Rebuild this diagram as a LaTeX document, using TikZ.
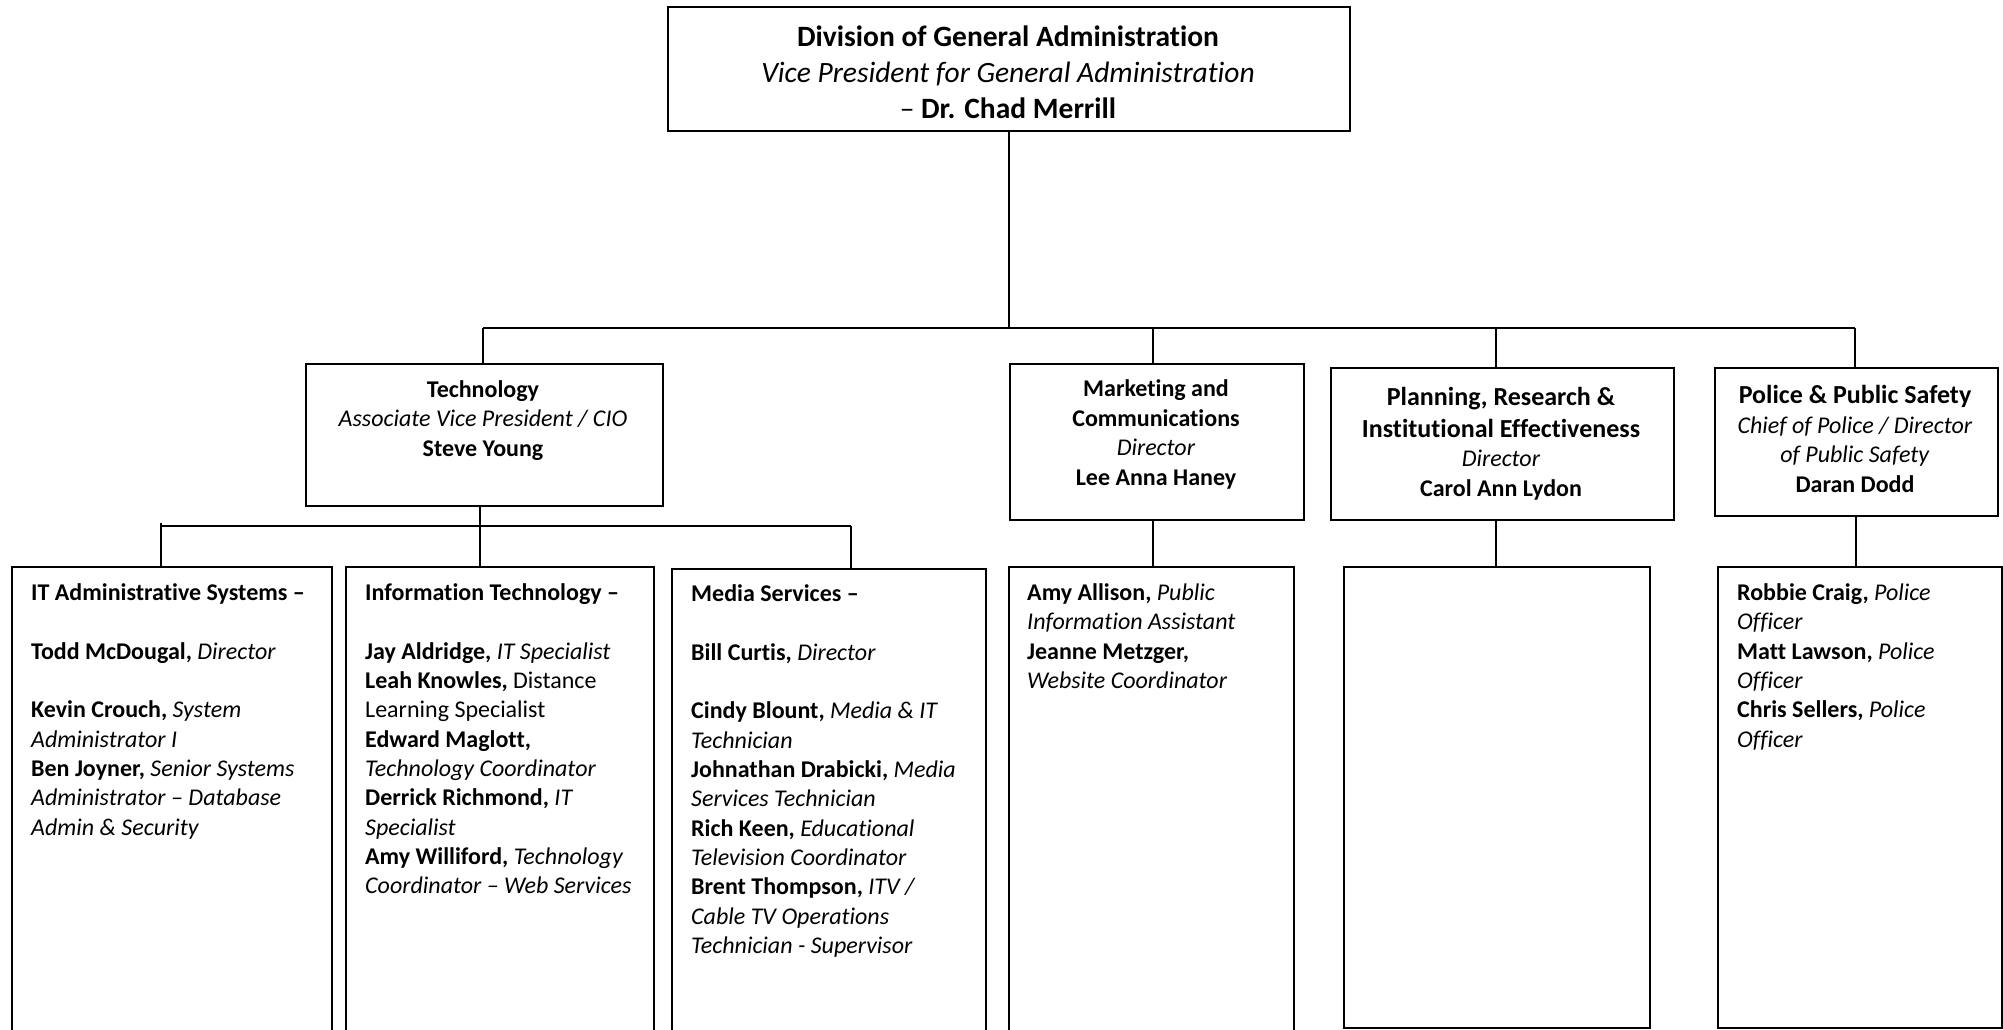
\documentclass[tikz,border=0pt]{standalone}
\usepackage{fontspec}
\setmainfont{Carlito}[Ligatures={NoCommon}]
\begin{document}
\begin{tikzpicture}[x=1pt,y=-1pt,
  box/.style={draw, line width=2.2pt, rectangle, inner sep=0pt, anchor=north west},
  conn/.style={line width=1.6pt},
  bigtxt/.style={font=\fontsize{29.5}{36}\selectfont, align=center, inner sep=0pt},
  midtxt/.style={font=\fontsize{24}{29.4}\selectfont, align=center, inner sep=0pt},
  listtxt/.style={font=\fontsize{24}{29.3}\selectfont, align=left, inner sep=0pt, anchor=north west}]
\useasboundingbox (0,0) rectangle (2003,1030);
\fill[white] (0,0) rectangle (2003,1030);
\clip (0,0) rectangle (2003,1030);

% level 1
\node[box, minimum width=682pt, minimum height=124pt] (top) at (667,6) {};
\node[bigtxt] (toptxt) at (1008,72) {\textbf{Division of General Administration}\\ \textit{Vice President for General Administration}\\ – \textbf{Dr. Chad Merrill}};

% level 2
\node[box, minimum width=357pt, minimum height=142pt] (tech) at (305,363) {};
\node[midtxt] (techtxt) at (483,420.5) {\textbf{Technology}\\ \textit{Associate Vice President / CIO}\\ \textbf{Steve Young}};

\node[box, minimum width=294pt, minimum height=156pt] (mkt) at (1009,363) {};
\node[midtxt] (mkttxt) at (1156,434.5) {\textbf{Marketing and}\\ \textbf{Communications}\\ \textit{Director}\\ \textbf{Lee Anna Haney}};

\node[box, minimum width=343pt, minimum height=152pt] (plan) at (1330,367) {};
\node[midtxt] (plantxt) at (1501,443.5) {{\fontsize{26}{32}\selectfont\textbf{Planning, Research \&}}\\[3pt] {\fontsize{26}{32}\selectfont\textbf{Institutional Effectiveness}}\\ \textit{Director}\\ \textbf{Carol Ann Lydon}};

\node[box, minimum width=283pt, minimum height=148pt] (pol) at (1714,367) {};
\node[midtxt] (poltxt) at (1855,439) {{\fontsize{26}{32}\selectfont\textbf{Police \& Public Safety}}\\ \textit{Chief of Police / Director}\\ \textit{of Public Safety}\\ \textbf{Daran Dodd}};

% level 3
\node[box, minimum width=320pt, minimum height=520pt] (itadm) at (11,566) {};
\node[listtxt] (itadmtxt) at (31,583.5) {\textbf{IT Administrative Systems –}\\[29.4pt]
\textbf{Todd McDougal,} \textit{Director}\\[29.4pt]
\textbf{Kevin Crouch,} \textit{System}\\
\textit{Administrator I}\\
\textbf{Ben Joyner,} \textit{Senior Systems}\\
\textit{Administrator – Database}\\
\textit{Admin \& Security}};

\node[box, minimum width=308pt, minimum height=520pt] (infot) at (345,566) {};
\node[listtxt] (infottxt) at (365,583.5) {\textbf{Information Technology –}\\[29.4pt]
\textbf{Jay Aldridge,} \textit{IT Specialist}\\
\textbf{Leah Knowles,} Distance\\
Learning Specialist\\
\textbf{Edward Maglott,}\\
\textit{Technology Coordinator}\\
\textbf{Derrick Richmond,} \textit{IT}\\
\textit{Specialist}\\
\textbf{Amy Williford,} \textit{Technology}\\
\textit{Coordinator – Web Services}};

\node[box, minimum width=314pt, minimum height=520pt] (media) at (671,568) {};
\node[listtxt] (mediatxt) at (691,584.5) {\textbf{Media Services –}\\[29.4pt]
\textbf{Bill Curtis,} \textit{Director}\\[29.4pt]
\textbf{Cindy Blount,} \textit{Media \& IT}\\
\textit{Technician}\\
\textbf{Johnathan Drabicki,} \textit{Media}\\
\textit{Services Technician}\\
\textbf{Rich Keen,} \textit{Educational}\\
\textit{Television Coordinator}\\
\textbf{Brent Thompson,} \textit{ITV /}\\
\textit{Cable TV Operations}\\
\textit{Technician - Supervisor}};

\node[box, minimum width=285pt, minimum height=520pt] (mktc) at (1008,566) {};
\node[listtxt] (mktctxt) at (1027,583.5) {\textbf{Amy Allison,} \textit{Public}\\
\textit{Information Assistant}\\
\textbf{Jeanne Metzger,}\\
\textit{Website Coordinator}};

\node[box, minimum width=306pt, minimum height=461pt] (planc) at (1343,566) {};

\node[box, minimum width=284pt, minimum height=461pt] (polc) at (1717,566) {};
\node[listtxt] (polctxt) at (1737,583.5) {\textbf{Robbie Craig,} \textit{Police}\\
\textit{Officer}\\
\textbf{Matt Lawson,} \textit{Police}\\
\textit{Officer}\\
\textbf{Chris Sellers,} \textit{Police}\\
\textit{Officer}};

% connectors level 1 -> 2
\coordinate (bus) at (0,328);
\coordinate (dtech) at (483,328);
\coordinate (dmkt) at (1153,328);
\coordinate (dplan) at (1496,328);
\coordinate (dpol) at (1855,328);
\draw[conn] (top.south) -- (top.south |- bus);
\draw[conn] (dtech) -- (dpol);
\draw[conn] (dtech) -- (dtech |- tech.north);
\draw[conn] (dmkt) -- (dmkt |- mkt.north);
\draw[conn] (dplan) -- (dplan |- plan.north);
\draw[conn] (dpol) -- (dpol |- pol.north);

% connectors technology -> children
\coordinate (bus2) at (0,526);
\coordinate (d1) at (161,526);
\coordinate (d2) at (480,526);
\coordinate (d3) at (851,526);
\draw[conn] (d2 |- tech.south) -- (d2);
\draw[conn] ([yshift=3pt]d1) -- (d1) -- (d3);
\draw[conn] ([yshift=3pt]d1) -- (d1 |- itadm.north);
\draw[conn] (d2) -- (d2 |- infot.north);
\draw[conn] (d3) -- (d3 |- media.north);

% connectors other level 2 -> children
\coordinate (e1) at (1153,0);
\coordinate (e2) at (1496,0);
\coordinate (e3) at (1856,0);
\draw[conn] (e1 |- mkt.south) -- (e1 |- mktc.north);
\draw[conn] (e2 |- plan.south) -- (e2 |- planc.north);
\draw[conn] (e3 |- pol.south) -- (e3 |- polc.north);
\end{tikzpicture}
\end{document}
